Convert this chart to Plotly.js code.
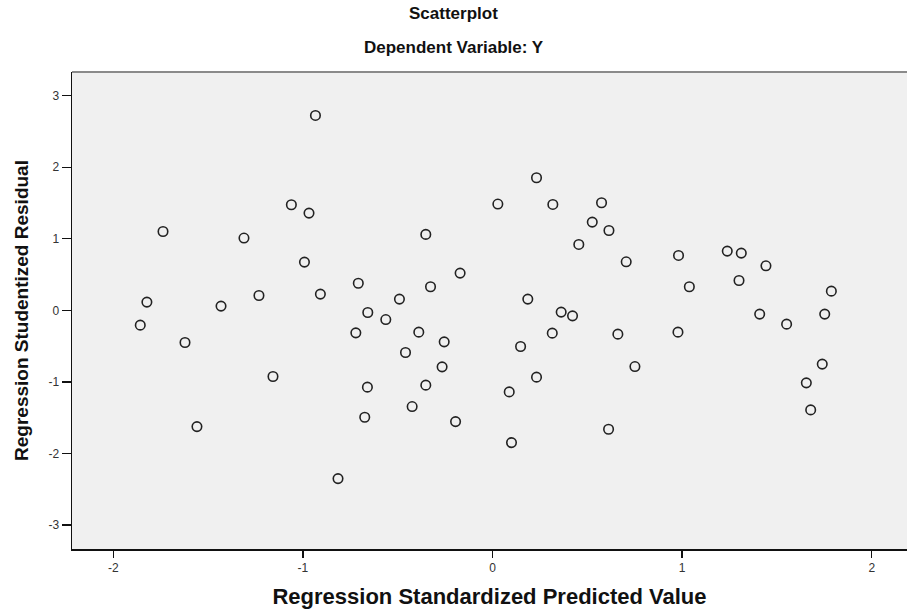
<!DOCTYPE html>
<html>
<head>
<meta charset="utf-8">
<script src="https://cdn.plot.ly/plotly-3.0.1.min.js"></script>
<style>html,body{margin:0;padding:0;background:#fff;}#chart{width:907px;height:610px;}</style>
</head>
<body>
<div id="chart"></div>
<script>
// Regression Standardized Predicted Value
var predicted = [
  -1.858, -1.823, -1.738, -1.622, -1.559, -1.432, -1.311, -1.232, -1.158,
  -1.061, -0.968, -0.992, -0.934, -0.908, -0.815, -0.708, -0.721, -0.658,
  -0.660, -0.674, -0.563, -0.491, -0.459, -0.424, -0.389, -0.352, -0.352,
  -0.327, -0.266, -0.255, -0.195, -0.171, 0.028, 0.088, 0.100, 0.148,
  0.186, 0.232, 0.232, 0.318, 0.315, 0.362, 0.422, 0.455, 0.526,
  0.575, 0.614, 0.612, 0.661, 0.705, 0.751, 0.981, 0.978, 1.038,
  1.238, 1.312, 1.300, 1.409, 1.442, 1.551, 1.655, 1.678, 1.739,
  1.752, 1.787
];
// Regression Studentized Residual
var residual = [
  -0.207, 0.115, 1.102, -0.450, -1.625, 0.059, 1.010, 0.207, -0.925,
  1.476, 1.359, 0.674, 2.724, 0.227, -2.352, 0.378, -0.315, -0.031,
  -1.074, -1.494, -0.129, 0.157, -0.590, -1.345, -0.305, 1.061, -1.046,
  0.329, -0.790, -0.441, -1.555, 0.520, 1.485, -1.140, -1.849, -0.506,
  0.157, 1.853, -0.934, 1.480, -0.319, -0.025, -0.077, 0.921, 1.233,
  1.503, 1.116, -1.662, -0.333, 0.678, -0.786, 0.767, -0.305, 0.329,
  0.828, 0.800, 0.417, -0.053, 0.622, -0.193, -1.014, -1.392, -0.752,
  -0.053, 0.268
];
var xTicks = [-2, -1, 0, 1, 2];
var yTicks = [-3, -2, -1, 0, 1, 2, 3];
var chartTitle = 'Scatterplot';
var chartSubtitle = 'Dependent Variable: Y';
var xTitle = 'Regression Standardized Predicted Value';
var yTitle = 'Regression Studentized Residual';

var trace = {
  x: predicted,
  y: residual,
  type: 'scatter',
  mode: 'markers',
  marker: {symbol: 'circle-open', size: 9.5, color: '#222222', line: {width: 1.6, color: '#222222'}},
  hoverinfo: 'x+y'
};

var FONT = 'Liberation Sans, Arial, sans-serif';
var layout = {
  width: 907,
  height: 610,
  margin: {l: 72, r: 0, t: 72, b: 61, pad: 0},
  paper_bgcolor: '#ffffff',
  plot_bgcolor: '#f0f0f0',
  showlegend: false,
  font: {family: FONT, color: '#222'},
  xaxis: {
    range: [-2.218, 2.186],
    tickvals: xTicks,
    ticktext: xTicks.map(String),
    ticks: 'outside', ticklen: 7, tickwidth: 1.3, tickcolor: '#111',
    showgrid: false, zeroline: false,
    showline: true, linecolor: '#111', linewidth: 1.5,
    tickfont: {family: FONT, size: 12, color: '#333'},
    title: {text: xTitle, font: {family: FONT, size: 22, color: '#111', weight: 'bold'}, standoff: 14},
    automargin: false
  },
  yaxis: {
    range: [-3.336, 3.331],
    tickvals: yTicks,
    ticktext: yTicks.map(String),
    ticks: 'outside', ticklen: 9, tickwidth: 1.3, tickcolor: '#111',
    showgrid: false, zeroline: false,
    showline: true, linecolor: '#111', linewidth: 1.5,
    tickfont: {family: FONT, size: 12, color: '#333'},
    title: {text: yTitle, font: {family: FONT, size: 19, color: '#111', weight: 'bold'}, standoff: 15},
    automargin: false
  },
  shapes: [{
    type: 'line', xref: 'paper', yref: 'paper', x0: 0, x1: 1, y0: 1, y1: 1,
    line: {color: '#8a8a8a', width: 2}
  }],
  annotations: [
    {text: chartTitle, xref: 'paper', yref: 'paper', x: 0.4569, y: 1.1216, xanchor: 'center', yanchor: 'middle', showarrow: false,
     font: {family: FONT, size: 17, color: '#111', weight: 'bold'}},
    {text: chartSubtitle, xref: 'paper', yref: 'paper', x: 0.4569, y: 1.0524, xanchor: 'center', yanchor: 'middle', showarrow: false,
     font: {family: FONT, size: 17, color: '#111', weight: 'bold'}}
  ]
};

Plotly.newPlot('chart', [trace], layout, {displayModeBar: false, staticPlot: true});
</script>
</body>
</html>
